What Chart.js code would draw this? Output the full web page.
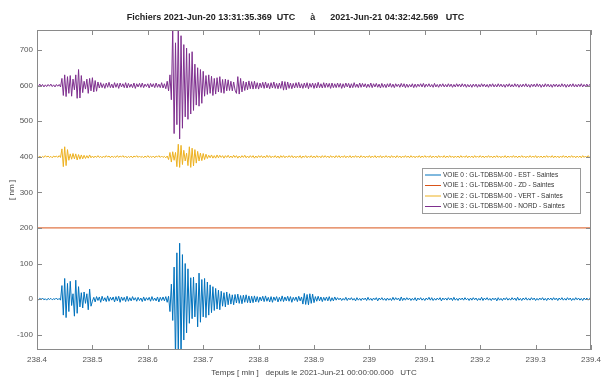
<!DOCTYPE html>
<html>
<head>
<meta charset="utf-8">
<script src="https://cdn.jsdelivr.net/npm/chart.js@4.4.0/dist/chart.umd.min.js"></script>
<style>
html, body { margin: 0; padding: 0; background: #fff; }
</style>
</head>
<body>
<canvas id="canvas" width="611" height="383"></canvas>
<script>
// time window (minutes since 2021-Jun-21 00:00 UTC)
var tStart = 238.4;
var tEnd = 239.4;

var xTickLabels = [238.4, 238.5, 238.6, 238.7, 238.8, 238.9, 239, 239.1, 239.2, 239.3, 239.4];
var yTickLabels = [-100, 0, 100, 200, 300, 400, 500, 600, 700];

var voieNames = [
  "VOIE 0 : GL-TDBSM-00 - EST - Saintes",
  "VOIE 1 : GL-TDBSM-00 - ZD - Saintes",
  "VOIE 2 : GL-TDBSM-00 - VERT - Saintes",
  "VOIE 3 : GL-TDBSM-00 - NORD - Saintes"
];
// each trace is drawn shifted by its offset (nm)
var voieOffsets = [0, 200, 400, 600];

// VOIE 0 (EST) - nm, sampled every 0.0025 min
var estData = [
  1,-2,2,-1,3,-2,1,-3,2,-1,2,-2,1,-1,3,-2,2,-3,
  38,-45,58,-52,44,-35,50,
  -18,15,
  -48,53,-40,35,
  -22,18,-25,20,-12,15,
  -30,28,-20,
  -6,5,-8,7,-4,6,-9,8,-5,4,-7,9,-6,5,-3,6,-8,7,-5,8,
  -9,6,-4,5,-7,8,-6,4,-5,7,-3,4,-6,5,-4,3,-7,6,-5,4,
  -3,5,-6,7,-4,3,-5,6,-8,5,-4,6,-5,7,-9,8,
  -35,42,
  -60,90,-170,130,-160,157,-170,125,-115,100,-95,85,
  -68,60,-55,62,-50,45,-78,73,-65,55,-50,
  58,-52,48,-45,40,-38,35,-32,
  30,-28,25,-30,22,-20,18,-22,20,-16,
  15,-14,12,-16,13,-11,14,-12,10,-13,11,-9,12,-10,9,-11,8,-10,9,
  -8,7,-9,6,-5,8,-7,9,-6,5,-8,7,-9,6,-4,7,-8,5,-6,9,-7,6,-5,8,-6,7,-9,5,-4,6,-7,8,-5,6,
  -14,16,-15,13,-16,15,-12,14,-10,
  7,-6,8,-5,6,-7,5,-4,6,-5,7,-6,4,-5,6,
  -3,4,-2,3,-4,2,-3,5,-4,3,-2,4,-3,2,-5,4,-3,2,-4,3,
  -2,3,-4,5,-3,2,-4,3,-2,4,-5,3,-2,4,-3,2,-4,3,-3,2,
  -4,5,-3,4,-2,3,-5,6,-4,3,-3,4,-2,3,-4,2,-3,4,-5,3,
  -2,4,-3,2,-4,3,-2,5,-3,4,-4,2,-3,3,-2,4,-5,3,-2,3,
  -3,4,-2,3,-4,5,-3,2,-4,3,-2,3,-3,4,-2,2,-4,3,-3,4,
  -2,3,-4,2,-3,5,-4,3,-2,4,-3,2,-4,3,-2,3,-5,4,-3,2,
  -4,3,-2,4,-3,2,-3,4,-2,3,-4,5,-3,2,-4,3,-2,4,-3,2,
  -3,4,-2,3,-4,2,-3,3,-2,4,-3,2,-4,3,-2,3,-3,4,-2,3,
  -4,3,-2,4,-3,2,-3,4,-2,3,-4,2,-3,4,-2,3,-3,2,-4,3,
  -2,3,-3,2,-1
];

// VOIE 1 (ZD) - flat channel
var zdData = [0, 0];

// VOIE 2 (VERT)
var vertData = [
  1,-2,2,-3,1,-2,3,-1,2,-2,1,-3,2,-1,2,-2,3,-2,
  22,-28,28,-25,20,
  -10,8,-7,9,-6,8,-9,6,-7,5,-6,
  4,-5,3,-4,5,-3,
  2,-3,2,-2,3,-2,1,-3,2,-2,3,-1,2,-3,2,-2,1,-2,3,-2,
  2,-1,3,-2,2,-3,1,-2,2,-3,2,-1,3,-2,2,-2,1,-3,2,-2,
  3,-2,1,-2,2,-3,2,-1,3,-2,2,-2,1,-3,2,
  -8,12,-15,14,-10,12,
  -28,35,-30,32,-22,18,
  -12,10,
  -25,28,-30,24,-26,20,-18,15,
  -12,10,-11,9,-8,7,
  -5,4,-3,5,-4,3,-4,5,-3,4,-2,3,-4,3,-2,4,-3,2,-3,4,
  -2,3,-4,2,-3,3,-2,4,-3,2,-3,3,-2,3,-4,2,-3,3,-2,3,
  -3,2,-3,4,-2,3,-3,2,-2,3,-3,2,-4,3,-2,3,-3,2,-2,3,
  -2,3,-3,2,-3,2,-2,3,-4,2,-2,3,-3,2,-2,3,-3,2,-3,3,
  -2,2,-3,3,-2,3,-2,2,-3,3,-2,2,-3,3,-2,3,-3,2,-2,3,
  -3,2,-2,3,-3,2,-2,3,-2,2,-3,3,-2,2,-3,2,-2,3,-3,2,
  -2,3,-3,2,-2,3,-3,2,-2,3,-2,2,-3,3,-2,2,-3,3,-2,2,
  -3,2,-2,3,-2,2,-3,3,-2,2,-3,2,-2,3,-3,2,-2,3,-2,2,
  -2,3,-3,2,-2,2,-3,3,-2,2,-2,3,-3,2,-2,3,-2,2,-3,2,
  -2,2,-3,3,-2,2,-2,3,-3,2,-2,2,-3,3,-2,2,-2,3,-2,2,
  -3,2,-2,3,-2,2,-3,2,-2,3,-2,2,-3,2,-2,3,-3,2,-2,2,
  -2,3,-2,2,-3,2,-2,3,-2,2,-3,2,-2,3,-2,2,-2,3,-3,2,
  -2,2,-3,2,-2,3,-2,2,-2,3,-3,2,-2,2,-3,2,-2,3,-2,2,
  -3,2,-2,3,-2,2,-3,2,-2,2,-3,3,-2,2,-2,3,-2,1
];

// VOIE 3 (NORD)
var nordData = [
  2,-3,4,-2,3,-4,2,-3,3,-2,4,-3,2,-4,3,-2,3,-4,
  20,-28,30,-31,25,-22,28,-30,18,-12,
  30,-36,45,-35,28,-20,
  12,-10,
  18,-22,20,-15,22,-18,14,-16,10,
  -7,8,-6,5,-8,7,-5,9,-6,4,-7,8,-5,6,-8,7,-4,5,-6,8,
  -7,6,-5,4,-6,7,-8,5,-4,6,-5,7,-6,4,-3,5,-7,6,-4,5,
  -6,7,-5,4,-6,8,-7,5,-9,12,-15,
  30,-40,
  165,-135,120,-110,165,-150,140,-120,
  115,-88,105,-95,90,-80,95,-70,
  60,-55,50,-58,45,-50,40,
  -30,28,-25,30,-22,26,-28,20,-24,22,-18,25,-20,17,-22,18,-15,16,
  -14,12,-15,10,-13,-22,25,-24,20,-18,12,-14,10,-12,13,-9,11,-10,12,
  -9,8,-10,7,-6,9,-8,10,-7,6,-9,8,-7,10,-8,6,-9,7,-8,
  12,-13,11,-12,10,
  -8,7,-9,6,-7,8,-6,9,-7,5,-8,7,-6,8,-9,6,-5,7,-8,6,-7,9,-6,5,-7,8,-6,7,-5,6,-8,7,-6,5,
  -6,7,-5,6,-8,5,-6,7,-4,6,-7,5,-6,8,-5,4,-6,7,-5,6,
  -4,5,-6,4,-5,7,-6,5,-4,6,-5,4,-7,6,-5,4,-6,5,-4,6,
  -5,4,-6,5,-3,4,-5,6,-4,5,-6,4,-5,3,-4,5,-6,4,-5,4,
  -3,5,-4,6,-5,4,-3,5,-4,3,-5,6,-4,3,-5,4,-3,5,-4,3,
  -4,5,-3,4,-5,3,-4,5,-3,4,-4,5,-3,4,-5,3,-4,3,-5,4,
  -3,4,-5,3,-4,5,-3,4,-4,3,-5,4,-3,5,-4,3,-4,5,-3,4,
  -4,3,-5,4,-3,5,-4,3,-4,5,-3,4,-5,3,-4,4,-3,5,-4,3,
  -5,4,-3,4,-4,5,-3,4,-5,3,-4,5,-3,4,-4,3,-5,4,-3,4,
  -4,3,-4,5,-3,4,-5,3,-4,4,-3,5,-4,3,-4,4,-3,5,-4,3,
  -3,4,-4,3,-2
];

var voieColors = ["#0072BD", "#D95319", "#EDB120", "#7E2F8E"];
var fontFam = '"Liberation Sans", Arial, sans-serif';

// samples are evenly spaced over the window
function toPoints(values, offset) {
  var pts = [];
  var dt = (tEnd - tStart) / (values.length - 1);
  for (var i = 0; i < values.length; i++) {
    pts.push({x: tStart + i * dt, y: values[i] + offset});
  }
  return pts;
}

var allTraces = [estData, zdData, vertData, nordData];
var datasets = [];
for (var k = 0; k < allTraces.length; k++) {
  datasets.push({
    label: voieNames[k],
    data: toPoints(allTraces[k], voieOffsets[k]),
    borderColor: voieColors[k],
    borderWidth: 1,
    pointRadius: 0,
    tension: 0,
    fill: false
  });
}

// box around the axes with inward ticks on the four sides (matlab look)
var framePlugin = {
  id: 'frame',
  afterDatasetsDraw: function(chart) {
    var ctx = chart.ctx, a = chart.chartArea;
    var xs = chart.scales.x, ys = chart.scales.y;
    ctx.save();
    ctx.strokeStyle = '#8a8a8a';
    ctx.lineWidth = 1;
    ctx.strokeRect(a.left + 0.5, a.top + 0.5, a.right - a.left - 1, a.bottom - a.top - 1);
    ctx.beginPath();
    xTickLabels.forEach(function(v) {
      var px = Math.round(xs.getPixelForValue(v)) + 0.5;
      ctx.moveTo(px, a.bottom); ctx.lineTo(px, a.bottom - 5);
      ctx.moveTo(px, a.top); ctx.lineTo(px, a.top + 5);
    });
    yTickLabels.forEach(function(v) {
      var py = Math.round(ys.getPixelForValue(v)) + 0.5;
      ctx.moveTo(a.left, py); ctx.lineTo(a.left + 5, py);
      ctx.moveTo(a.right, py); ctx.lineTo(a.right - 5, py);
    });
    ctx.stroke();
    ctx.restore();
  },
  afterDraw: function(chart) {
    // legend box inside the axes
    var ctx = chart.ctx;
    var bx = 422, by = 168, bw = 158, bh = 45;
    ctx.save();
    ctx.fillStyle = '#fff';
    ctx.fillRect(bx, by, bw, bh);
    ctx.strokeStyle = '#9a9a9a';
    ctx.lineWidth = 1;
    ctx.strokeRect(bx + 0.5, by + 0.5, bw, bh);
    ctx.font = '6.5px ' + fontFam;
    ctx.textBaseline = 'middle';
    chart.data.datasets.forEach(function(ds, i) {
      var ry = by + 7 + i * 10.5;
      ctx.strokeStyle = ds.borderColor;
      ctx.beginPath();
      ctx.moveTo(bx + 3, ry); ctx.lineTo(bx + 19, ry);
      ctx.stroke();
      ctx.fillStyle = '#333';
      ctx.fillText(ds.label, bx + 21, ry);
    });
    ctx.restore();
  }
};

var ctx = document.getElementById("canvas").getContext("2d");
var myChart = new Chart(ctx, {
  type: 'line',
  data: {datasets: datasets},
  options: {
    responsive: false,
    animation: false,
    parsing: false,
    layout: {padding: {top: 0, right: 20, bottom: 0, left: 0}},
    plugins: {
      legend: {display: false},
      tooltip: {enabled: false},
      title: {
        display: true,
        text: 'Fichiers 2021-Jun-20 13:31:35.369  UTC      \u00e0      2021-Jun-21 04:32:42.569   UTC',
        color: '#222',
        font: {family: fontFam, size: 9, weight: 'bold'},
        padding: {top: 12.6, bottom: 6.6}
      }
    },
    scales: {
      x: {
        type: 'linear',
        min: tStart,
        max: tEnd,
        afterBuildTicks: function(s) { s.ticks = xTickLabels.map(function(v) { return {value: v}; }); },
        afterFit: function(s) { s.height = 33; },
        grid: {display: false, drawTicks: false},
        border: {display: false},
        ticks: {
          color: '#555',
          padding: 5,
          maxRotation: 0,
          autoSkip: false,
          font: {family: fontFam, size: 8},
          callback: function(v) { return String(+v.toFixed(1)); }
        },
        title: {
          display: true,
          text: 'Temps [ min ]   depuis le 2021-Jun-21 00:00:00.000   UTC',
          color: '#444',
          font: {family: fontFam, size: 8},
          padding: {top: 0, bottom: 5}
        }
      },
      y: {
        type: 'linear',
        min: -143,
        max: 756,
        afterBuildTicks: function(s) { s.ticks = yTickLabels.map(function(v) { return {value: v}; }); },
        afterFit: function(s) { s.width = 37; },
        grid: {display: false, drawTicks: false},
        border: {display: false},
        ticks: {
          color: '#555',
          padding: 4,
          autoSkip: false,
          font: {family: fontFam, size: 8}
        },
        title: {
          display: true,
          text: '[ nm ]',
          color: '#444',
          font: {family: fontFam, size: 8},
          padding: {top: 7, bottom: 0}
        }
      }
    }
  },
  plugins: [framePlugin]
});
</script>
</body>
</html>
